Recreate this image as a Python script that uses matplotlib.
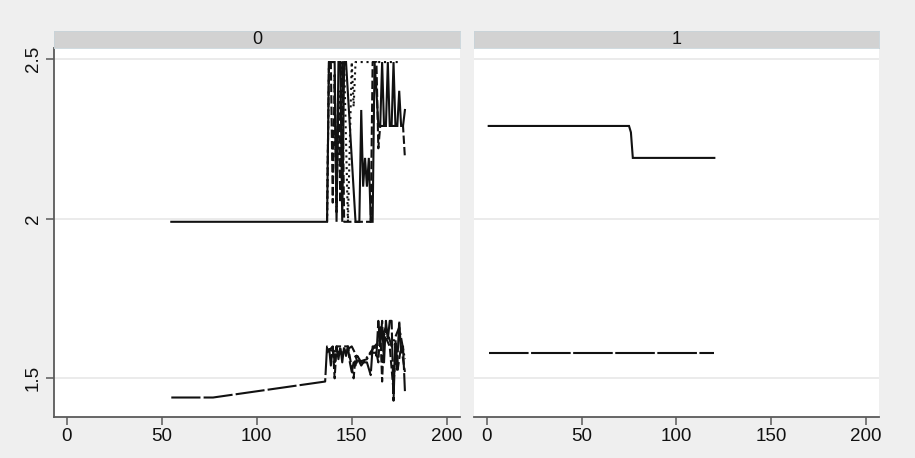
import matplotlib
matplotlib.use("Agg")
import matplotlib.pyplot as plt

plt.rcParams['font.family'] = ['Liberation Sans', 'DejaVu Sans']

# ---------------- data ----------------
panel_labels = ["0", "1"]
x_ticks = [0, 50, 100, 150, 200]
y_ticks = [1.5, 2, 2.5]
y_ticklabels = ["1.5", "2", "2.5"]

# group 0, upper series
g0_s1_x = [55, 137, 138, 141, 142, 143, 144, 145, 146, 147, 152, 154, 155, 156, 157, 158, 159, 160, 161, 162,
           163, 164, 165, 166, 167, 168, 169, 170, 171, 172, 173, 174, 175, 176, 177, 178]
g0_s1_y = [1.99, 1.99, 2.49, 2.49, 1.99, 2.49, 2.49, 1.99, 2.49, 2.49, 1.99, 1.99, 2.34, 2.10, 2.19, 2.10, 2.19, 1.99, 1.99, 2.49,
           2.40, 2.29, 2.29, 2.49, 2.29, 2.29, 2.49, 2.29, 2.29, 2.49, 2.29, 2.29, 2.40, 2.29, 2.29, 2.34]

g0_s2_x = [137, 138, 139, 140, 141, 142, 143, 144, 145, 146, 152, 160, 161, 163, 164, 165, 177, 178]
g0_s2_y = [1.99, 2.49, 2.49, 2.05, 2.45, 2.02, 2.40, 2.05, 2.49, 1.99, 1.99, 1.99, 2.49, 2.49, 2.22, 2.29, 2.29, 2.19]

g0_s3_x = [137, 138, 146, 148, 150, 151, 152, 175]
g0_s3_y = [1.99, 2.49, 2.49, 1.99, 2.49, 2.35, 2.49, 2.49]

# group 0, lower series
g0_l1_x = [55, 77, 136] + list(range(137, 179))
g0_l1_y = [1.44, 1.44, 1.49,
           1.60, 1.60, 1.54, 1.60, 1.55, 1.60, 1.56, 1.60, 1.55, 1.60,
           1.57, 1.60, 1.55, 1.52, 1.55, 1.54, 1.57, 1.56, 1.55, 1.55,
           1.55, 1.55, 1.53, 1.51, 1.60, 1.60, 1.57, 1.68, 1.60, 1.68,
           1.55, 1.68, 1.62, 1.68, 1.68, 1.43, 1.62, 1.55, 1.68, 1.58,
           1.60, 1.46]

g0_l2_x = [137, 140, 141, 142, 148, 151, 152, 153, 158, 160, 163, 164, 165, 166, 167, 170, 172,
           173, 174, 176, 178]
g0_l2_y = [1.58, 1.60, 1.50, 1.60, 1.60, 1.50, 1.57, 1.55, 1.56, 1.58, 1.58, 1.55, 1.66, 1.49, 1.64, 1.60, 1.46,
           1.60, 1.52, 1.60, 1.52]

g0_l3_x = [137, 145, 150, 155, 162, 165, 168, 171, 175, 178]
g0_l3_y = [1.59, 1.58, 1.60, 1.54, 1.60, 1.62, 1.66, 1.60, 1.66, 1.56]

# group 1
g1_s1_x = [1, 75, 76, 77, 120]
g1_s1_y = [2.29, 2.29, 2.27, 2.19, 2.19]
g1_l1_x = [1, 120]
g1_l1_y = [1.58, 1.58]

# ---------------- figure ----------------
W, H = 915, 458
fig = plt.figure(figsize=(W / 100, H / 100), dpi=100, facecolor="#efefef")

def px_axes(left, top, right, bottom, **kw):
    return fig.add_axes([left / W, 1 - bottom / H, (right - left) / W, (bottom - top) / H], **kw)

XLIM = (-6.6, 207.0)
YLIM = (1.379, 2.534)
STRIP = "#d2d2d2"
AX_COL = "#5a5a5a"
LC = "#111111"
LW = 1.5

panels = [(54.3, 460.0), (474.3, 879.3)]
top_plot, bottom_plot = 48, 417
strip_top = 31

series = [
    [(g0_s1_x, g0_s1_y, "-"),
     (g0_s2_x, g0_s2_y, (0, (4, 1.5))),
     (g0_s3_x, g0_s3_y, (0, (1, 1.8))),
     (g0_l1_x, g0_l1_y, (0, (14, 1.5))),
     (g0_l2_x, g0_l2_y, (0, (4, 1.5))),
     (g0_l3_x, g0_l3_y, (0, (6, 1.5, 1, 1.5)))],
    [(g1_s1_x, g1_s1_y, "-"),
     (g1_l1_x, g1_l1_y, (0, (19, 1.2)))],
]

for i, (l, r) in enumerate(panels):
    ax = px_axes(l, top_plot, r, bottom_plot)
    ax.set_facecolor("white")
    ax.set_xlim(*XLIM)
    ax.set_ylim(*YLIM)
    for y in y_ticks:
        ax.axhline(y, color="#e8e8e8", lw=1.2, zorder=0)
    for xs, ys, ls in series[i]:
        ax.plot(xs, ys, color=LC, lw=LW, linestyle=ls, solid_joinstyle="miter", zorder=3)
    for s in ["top", "right"]:
        ax.spines[s].set_visible(False)
    ax.spines["bottom"].set_color(AX_COL)
    ax.spines["bottom"].set_linewidth(1.3)
    ax.set_xticks(x_ticks)
    ax.set_xticklabels([str(t) for t in x_ticks])
    ax.tick_params(axis="x", direction="out", length=6, width=1.1, color=AX_COL,
                   labelsize=13.5, pad=2, labelcolor="#111111")
    if i == 0:
        ax.spines["left"].set_color(AX_COL)
        ax.spines["left"].set_linewidth(1.3)
        ax.set_yticks(y_ticks)
        ax.set_yticklabels(y_ticklabels, rotation=90, va="center")
        ax.tick_params(axis="y", direction="out", length=6, width=1.1, color=AX_COL,
                       labelsize=13.5, pad=3, labelcolor="#111111")
    else:
        ax.spines["left"].set_visible(False)
        ax.set_yticks([])

    # strip
    sax = px_axes(l, strip_top, r, top_plot)
    sax.set_facecolor(STRIP)
    sax.set_xticks([])
    sax.set_yticks([])
    for s in sax.spines.values():
        s.set_color("#c8d4da")
        s.set_linewidth(0.6)
    sax.text(0.5, 0.5, panel_labels[i], ha="center", va="center", fontsize=13,
             color="#111111", transform=sax.transAxes)

fig.savefig("out.png", dpi=100, facecolor=fig.get_facecolor())
